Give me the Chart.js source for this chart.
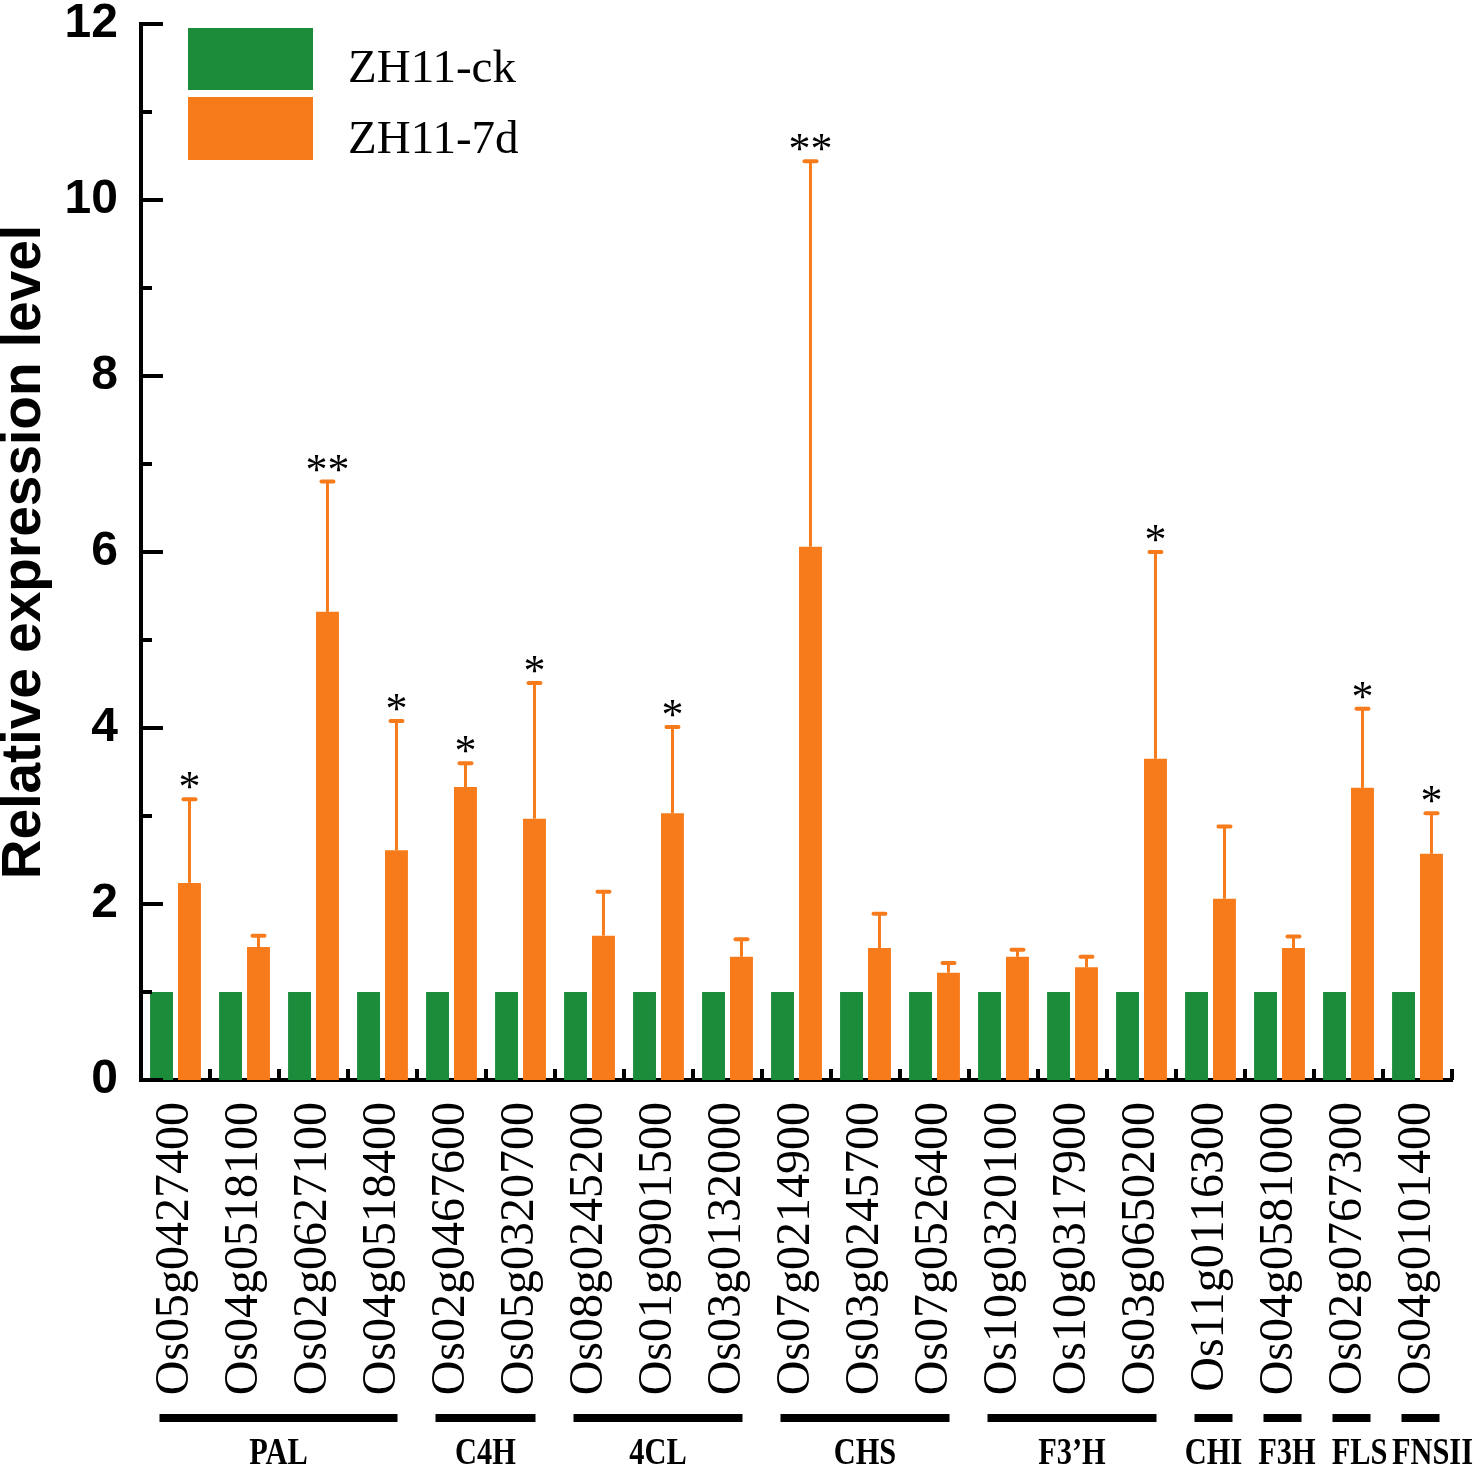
<!DOCTYPE html>
<html>
<head>
<meta charset="utf-8">
<script src="https://cdn.jsdelivr.net/npm/chart.js@4.4.1/dist/chart.umd.min.js"></script>
<style>
  body { margin: 0; background: #fff; }
  canvas { display: block; }
</style>
</head>
<body>
<canvas id="chart" width="1476" height="1467"></canvas>
<script>
var genes = ['Os05g0427400', 'Os04g0518100', 'Os02g0627100', 'Os04g0518400',
             'Os02g0467600', 'Os05g0320700',
             'Os08g0245200', 'Os01g0901500', 'Os03g0132000',
             'Os07g0214900', 'Os03g0245700', 'Os07g0526400',
             'Os10g0320100', 'Os10g0317900', 'Os03g0650200',
             'Os11g0116300', 'Os04g0581000', 'Os02g0767300', 'Os04g0101400'];
var ck = [1, 1, 1, 1, 1, 1, 1, 1, 1, 1, 1, 1, 1, 1, 1, 1, 1, 1, 1];
var d7 = [2.24, 1.51, 5.32, 2.61, 3.33, 2.97, 1.64, 3.03, 1.40, 6.06,
          1.50, 1.22, 1.40, 1.28, 3.65, 2.06, 1.50, 3.32, 2.57];
var d7sd = [0.95, 0.13, 1.48, 1.47, 0.27, 1.54, 0.50, 0.98, 0.20, 4.38,
            0.39, 0.11, 0.08, 0.12, 2.35, 0.82, 0.13, 0.90, 0.46];
var signif = ['*', '', '**', '*', '*', '*', '', '*', '', '**',
              '', '', '', '', '*', '', '', '*', '*'];
var groupNames = ['PAL', 'C4H', '4CL', 'CHS', 'F3\u2019H', 'CHI', 'F3H', 'FLS', 'FNSII'];
var groupSizes = [4, 2, 3, 3, 3, 1, 1, 1, 1];
var yTicks = [0, 2, 4, 6, 8, 10, 12];

var green = '#1A8C3A';
var orange = '#F77B1B';
var serif = '"Liberation Serif", "Times New Roman", serif';
var sans = '"Liberation Sans", Arial, sans-serif';

// error bars, stars, inner ticks, legend and gene groups
var extras = {
  id: 'extras',
  afterDraw: function(chart) {
    var ctx = chart.ctx;
    var xs = chart.scales.x, ys = chart.scales.y;
    var area = chart.chartArea;
    ctx.save();

    // inward ticks on y
    ctx.strokeStyle = '#000';
    ctx.lineWidth = 4;
    for (var v = 0; v <= 12; v++) {
      var py = ys.getPixelForValue(v);
      var len = (v % 2 === 0) ? 22 : 11;
      ctx.beginPath();
      ctx.moveTo(area.left, py);
      ctx.lineTo(area.left + len, py);
      ctx.stroke();
    }
    // inward ticks on x at category borders
    for (var i = 1; i <= genes.length; i++) {
      var px = xs.getPixelForValue(i - 0.5);
      ctx.beginPath();
      ctx.moveTo(px, area.bottom);
      ctx.lineTo(px, area.bottom - 11);
      ctx.stroke();
    }

    // error bars + stars
    var meta = chart.getDatasetMeta(1);
    meta.data.forEach(function(bar, k) {
      var top = ys.getPixelForValue(d7[k] + d7sd[k]);
      ctx.strokeStyle = orange;
      ctx.lineCap = 'butt';
      ctx.lineWidth = 3;
      ctx.beginPath();
      ctx.moveTo(bar.x, bar.y);
      ctx.lineTo(bar.x, top);
      ctx.stroke();
      ctx.lineCap = 'round';
      ctx.lineWidth = 4;
      ctx.beginPath();
      ctx.moveTo(bar.x - 6, top);
      ctx.lineTo(bar.x + 6, top);
      ctx.stroke();
      if (signif[k]) {
        ctx.fillStyle = '#000';
        ctx.font = '44px ' + serif;
        ctx.textAlign = 'center';
        ctx.textBaseline = 'alphabetic';
        ctx.fillText(signif[k], bar.x, top + 2);
      }
    });

    // legend
    var lx = area.left + 47, ly = area.top + 4;
    ctx.fillStyle = green;
    ctx.fillRect(lx, ly, 125, 62);
    ctx.fillStyle = orange;
    ctx.fillRect(lx, ly + 69, 125, 63);
    ctx.fillStyle = '#000';
    ctx.font = '47px ' + serif;
    ctx.textAlign = 'left';
    ctx.textBaseline = 'alphabetic';
    ctx.fillText(chart.data.datasets[0].label, lx + 160, ly + 54);
    ctx.fillText(chart.data.datasets[1].label, lx + 160, ly + 125);

    // gene family bars and names
    var start = 0;
    var prevRight = 0;
    groupNames.forEach(function(name, g) {
      var n = groupSizes[g];
      var x0 = xs.getPixelForValue(start) - 16;
      var x1 = xs.getPixelForValue(start + n - 1) + (n === 1 ? 22 : 15);
      ctx.fillStyle = '#000';
      ctx.fillRect(x0, 1414, x1 - x0, 8);
      ctx.font = 'bold 38px ' + serif;
      var w = ctx.measureText(name).width * 0.8;
      var cx = Math.max((x0 + x1) / 2, prevRight + 16 + w / 2);
      cx = Math.min(cx, chart.width - w / 2 - 3);
      prevRight = cx + w / 2;
      ctx.save();
      ctx.translate(cx, 1464);
      ctx.scale(0.8, 1);
      ctx.textAlign = 'center';
      ctx.textBaseline = 'alphabetic';
      ctx.fillText(name, 0, 0);
      ctx.restore();
      start += n;
    });

    ctx.restore();
  }
};

new Chart(document.getElementById('chart'), {
  type: 'bar',
  data: {
    labels: genes,
    datasets: [
      { label: 'ZH11-ck', data: ck, backgroundColor: green, borderWidth: 0 },
      { label: 'ZH11-7d', data: d7, backgroundColor: orange, borderWidth: 0 }
    ]
  },
  options: {
    responsive: false,
    animation: false,
    devicePixelRatio: 1,
    layout: { padding: { top: 24, right: 24, bottom: 0, left: 0 } },
    datasets: { bar: { categoryPercentage: 0.81, barPercentage: 0.82 } },
    plugins: { legend: { display: false }, tooltip: { enabled: false } },
    scales: {
      x: {
        grid: { display: false, drawTicks: false },
        border: { display: true, color: '#000', width: 4 },
        ticks: {
          color: '#000', padding: 22, autoSkip: false,
          minRotation: 90, maxRotation: 90,
          font: { family: serif, size: 48 }
        },
        afterFit: function(s) { s.height = 387; s.paddingLeft = 0; s.paddingRight = 0; }
      },
      y: {
        min: 0, max: 12,
        afterBuildTicks: function(s) { s.ticks = yTicks.map(function(v) { return { value: v }; }); },
        grid: { display: false, drawTicks: false },
        border: { display: true, color: '#000', width: 4 },
        ticks: {
          color: '#000', padding: 23,
          font: { family: sans, size: 48, weight: 'bold' }
        },
        title: {
          display: true, text: 'Relative expression level', color: '#000', padding: 0,
          font: { family: sans, size: 55, weight: 'bold', lineHeight: 0.9 }
        },
        afterFit: function(s) { s.width = 141; s.paddingTop = 0; s.paddingBottom = 0; }
      }
    }
  },
  plugins: [extras]
});
</script>
</body>
</html>
